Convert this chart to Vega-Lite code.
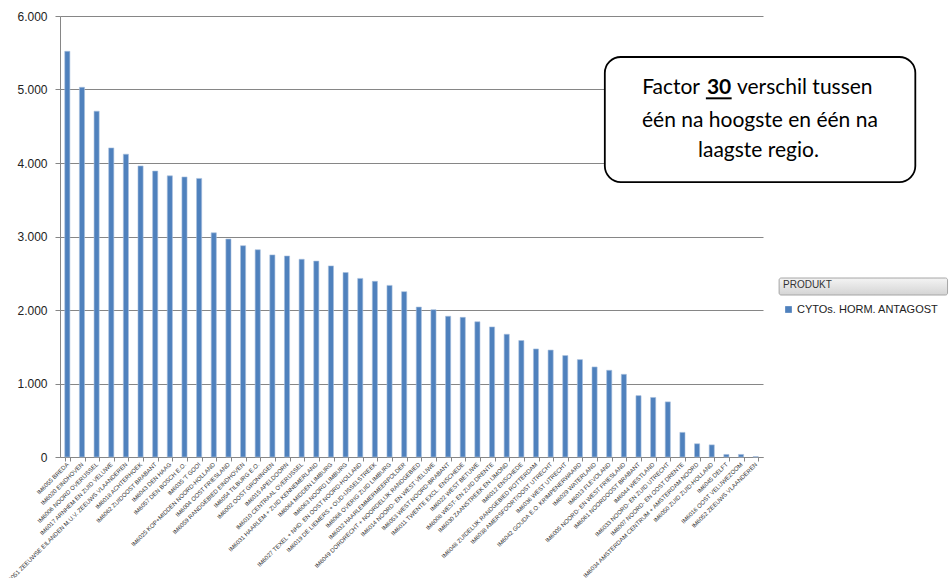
{
  "$schema": "https://vega.github.io/schema/vega-lite/v6.json",
  "width": 703,
  "height": 441,
  "autosize": "none",
  "padding": {"left": 60, "top": 16, "right": 186, "bottom": 121},
  "background": "white",
  "config": {"view": {"stroke": null}, "font": "Liberation Sans"},
  "data": {
    "values": [
      {"region": "IM6055 BREDA", "value": 5520, "produkt": "CYTOs. HORM. ANTAGOST"},
      {"region": "IM6020 EINDHOVEN", "value": 5030, "produkt": "CYTOs. HORM. ANTAGOST"},
      {"region": "IM6006 NOORD OVERIJSSEL", "value": 4705, "produkt": "CYTOs. HORM. ANTAGOST"},
      {"region": "IM6017 ARNHEM EN ZUID VELUWE", "value": 4205, "produkt": "CYTOs. HORM. ANTAGOST"},
      {"region": "IM6051 ZEEUWSE EILANDEN M.U.V. ZEEUWS VLAANDEREN", "value": 4120, "produkt": "CYTOs. HORM. ANTAGOST"},
      {"region": "IM6018 ACHTERHOEK", "value": 3960, "produkt": "CYTOs. HORM. ANTAGOST"},
      {"region": "IM6062 ZUIDOOST BRABANT", "value": 3890, "produkt": "CYTOs. HORM. ANTAGOST"},
      {"region": "IM6043 DEN HAAG", "value": 3825, "produkt": "CYTOs. HORM. ANTAGOST"},
      {"region": "IM6057 DEN BOSCH E.O.", "value": 3810, "produkt": "CYTOs. HORM. ANTAGOST"},
      {"region": "IM6035 'T GOOI", "value": 3790, "produkt": "CYTOs. HORM. ANTAGOST"},
      {"region": "IM6025 KOP+MIDDEN NOORD-HOLLAND", "value": 3050, "produkt": "CYTOs. HORM. ANTAGOST"},
      {"region": "IM6004 OOST FRIESLAND", "value": 2965, "produkt": "CYTOs. HORM. ANTAGOST"},
      {"region": "IM6059 RANDGEBIED EINDHOVEN", "value": 2875, "produkt": "CYTOs. HORM. ANTAGOST"},
      {"region": "IM6054 TILBURG E.O.", "value": 2820, "produkt": "CYTOs. HORM. ANTAGOST"},
      {"region": "IM6002 OOST GRONINGEN", "value": 2750, "produkt": "CYTOs. HORM. ANTAGOST"},
      {"region": "IM6015 APELDOORN", "value": 2735, "produkt": "CYTOs. HORM. ANTAGOST"},
      {"region": "IM6010 CENTRAAL OVERIJSSEL", "value": 2690, "produkt": "CYTOs. HORM. ANTAGOST"},
      {"region": "IM6031 HAARLEM + ZUID KENNEMERLAND", "value": 2665, "produkt": "CYTOs. HORM. ANTAGOST"},
      {"region": "IM6064 MIDDEN LIMBURG", "value": 2600, "produkt": "CYTOs. HORM. ANTAGOST"},
      {"region": "IM6063 NOORD LIMBURG", "value": 2510, "produkt": "CYTOs. HORM. ANTAGOST"},
      {"region": "IM6027 TEXEL + NHD. EN OOST NOORD-HOLLAND", "value": 2430, "produkt": "CYTOs. HORM. ANTAGOST"},
      {"region": "IM6019 DE LIEMERS + OUD-IJSSELSTREEK", "value": 2390, "produkt": "CYTOs. HORM. ANTAGOST"},
      {"region": "IM6066 OVERIG ZUID LIMBURG", "value": 2335, "produkt": "CYTOs. HORM. ANTAGOST"},
      {"region": "IM6032 HAARLEMMERMEERPOLDER", "value": 2250, "produkt": "CYTOs. HORM. ANTAGOST"},
      {"region": "IM6049 DORDRECHT + NOORDELIJK RANDGEBIED", "value": 2040, "produkt": "CYTOs. HORM. ANTAGOST"},
      {"region": "IM6014 NOORD- EN WEST VELUWE", "value": 2005, "produkt": "CYTOs. HORM. ANTAGOST"},
      {"region": "IM6053 WEST NOORD-BRABANT", "value": 1915, "produkt": "CYTOs. HORM. ANTAGOST"},
      {"region": "IM6011 TWENTE EXCL. ENSCHEDE", "value": 1900, "produkt": "CYTOs. HORM. ANTAGOST"},
      {"region": "IM6022 WEST BETUWE", "value": 1840, "produkt": "CYTOs. HORM. ANTAGOST"},
      {"region": "IM6008 WEST- EN ZUID DRENTE", "value": 1770, "produkt": "CYTOs. HORM. ANTAGOST"},
      {"region": "IM6030 ZAANSTREEK EN IJMOND", "value": 1670, "produkt": "CYTOs. HORM. ANTAGOST"},
      {"region": "IM6012 ENSCHEDE", "value": 1585, "produkt": "CYTOs. HORM. ANTAGOST"},
      {"region": "IM6048 ZUIDELIJK RANDGEBIED ROTTERDAM", "value": 1470, "produkt": "CYTOs. HORM. ANTAGOST"},
      {"region": "IM6038 AMERSFOORT/OOST UTRECHT", "value": 1455, "produkt": "CYTOs. HORM. ANTAGOST"},
      {"region": "IM6036 WEST UTRECHT", "value": 1380, "produkt": "CYTOs. HORM. ANTAGOST"},
      {"region": "IM6042 GOUDA E.O. KRIMPENERWAARD", "value": 1325, "produkt": "CYTOs. HORM. ANTAGOST"},
      {"region": "IM6029 WATERLAND", "value": 1225, "produkt": "CYTOs. HORM. ANTAGOST"},
      {"region": "IM6013 FLEVOLAND", "value": 1180, "produkt": "CYTOs. HORM. ANTAGOST"},
      {"region": "IM6005 NOORD- EN WEST FRIESLAND", "value": 1125, "produkt": "CYTOs. HORM. ANTAGOST"},
      {"region": "IM6061 NOORDOOST BRABANT", "value": 835, "produkt": "CYTOs. HORM. ANTAGOST"},
      {"region": "IM6044 WESTLAND", "value": 810, "produkt": "CYTOs. HORM. ANTAGOST"},
      {"region": "IM6033 NOORD- EN ZUID UTRECHT", "value": 750, "produkt": "CYTOs. HORM. ANTAGOST"},
      {"region": "IM6007 NOORD- EN OOST DRENTE", "value": 335, "produkt": "CYTOs. HORM. ANTAGOST"},
      {"region": "IM6034 AMSTERDAM CENTRUM + AMSTERDAM NOORD", "value": 180, "produkt": "CYTOs. HORM. ANTAGOST"},
      {"region": "IM6050 ZUID ZUID-HOLLAND", "value": 165, "produkt": "CYTOs. HORM. ANTAGOST"},
      {"region": "IM6045 DELFT", "value": 35, "produkt": "CYTOs. HORM. ANTAGOST"},
      {"region": "IM6016 OOST VELUWEZOOM", "value": 35, "produkt": "CYTOs. HORM. ANTAGOST"},
      {"region": "IM6052 ZEEUWS VLAANDEREN", "value": 5, "produkt": "CYTOs. HORM. ANTAGOST"}
    ]
  },
  "layer": [
    {
      "mark": {"type": "bar", "stroke": "#A7C0DE", "strokeWidth": 0.6},
      "encoding": {
        "x": {
          "field": "region",
          "type": "nominal",
          "sort": null,
          "scale": {"paddingInner": 0.65, "paddingOuter": 0.325},
          "axis": {
            "title": null,
            "labelAngle": -45,
            "labelAlign": "right",
            "labelBaseline": "middle",
            "labelFontSize": 6,
            "labelColor": "#333333",
            "labelLimit": 400,
            "labelOverlap": false,
            "labelPadding": 2,
            "tickBand": "extent",
            "tickSize": 4,
            "tickColor": "#868686",
            "domainColor": "#868686",
            "grid": false
          }
        },
        "y": {
          "field": "value",
          "type": "quantitative",
          "scale": {"domain": [0, 6000], "nice": false},
          "axis": {
            "title": null,
            "values": [0, 1000, 2000, 3000, 4000, 5000, 6000],
            "labelExpr": "replace(format(datum.value, ','), ',', '.')",
            "labelFontSize": 12,
            "labelColor": "#222222",
            "labelPadding": 8,
            "tickSize": 5,
            "tickColor": "#868686",
            "domainColor": "#868686",
            "gridColor": "#868686",
            "gridWidth": 1
          }
        },
        "color": {
          "field": "produkt",
          "type": "nominal",
          "scale": {"range": ["#4F81BD"]},
          "legend": {
            "orient": "none",
            "legendX": 723,
            "legendY": 264,
            "title": "PRODUKT",
            "titleFontSize": 10,
            "titleFontWeight": "normal",
            "titleColor": "#333333",
            "titlePadding": 14,
            "symbolType": "square",
            "symbolSize": 45,
            "symbolStrokeWidth": 0,
            "labelFontSize": 11,
            "labelColor": "#222222",
            "labelOffset": 3,
            "labelLimit": 200
          }
        }
      }
    },
    {
      "data": {"values": [{}]},
      "layer": [
        {
          "mark": {"type": "rect", "cornerRadius": 2, "stroke": "#A6A6A6", "strokeWidth": 1,
            "fill": {"gradient": "linear", "x1": 0, "y1": 0, "x2": 0, "y2": 1,
              "stops": [{"offset": 0, "color": "#F4F4F4"}, {"offset": 1, "color": "#D4D4D4"}]}},
          "encoding": {
            "x": {"datum": 49.1, "type": "quantitative", "scale": {"domain": [0, 48], "nice": false, "zero": false}, "axis": null},
            "x2": {"datum": 60.6},
            "y": {"datum": 2435, "type": "quantitative", "title": null},
            "y2": {"datum": 2204}
          }
        },
        {
          "mark": {"type": "rect", "cornerRadius": 16, "stroke": "#000000", "strokeWidth": 1.8, "fill": "#FFFFFF"},
          "encoding": {
            "x": {"datum": 37.2, "type": "quantitative", "axis": null},
            "x2": {"datum": 58.4},
            "y": {"datum": 5442, "type": "quantitative", "title": null},
            "y2": {"datum": 3741}
          }
        },
        {
          "mark": {"type": "text", "text": "Factor", "font": "Lato", "fontSize": 21, "align": "right", "baseline": "alphabetic", "color": "#000000"},
          "encoding": {
            "x": {"datum": 43.7, "type": "quantitative", "axis": null},
            "y": {"datum": 4939, "type": "quantitative", "title": null}
          }
        },
        {
          "mark": {"type": "text", "text": "30", "font": "Lato", "fontSize": 21, "fontWeight": "bold", "align": "center", "baseline": "alphabetic", "color": "#000000"},
          "encoding": {
            "x": {"datum": 45.0, "type": "quantitative", "axis": null},
            "y": {"datum": 4939, "type": "quantitative", "title": null}
          }
        },
        {
          "mark": {"type": "rule", "strokeWidth": 2, "color": "#000000"},
          "encoding": {
            "x": {"datum": 44.1, "type": "quantitative", "axis": null},
            "x2": {"datum": 45.86},
            "y": {"datum": 4880, "type": "quantitative", "title": null}
          }
        },
        {
          "mark": {"type": "text", "text": "verschil tussen", "font": "Lato", "fontSize": 21, "align": "left", "baseline": "alphabetic", "color": "#000000"},
          "encoding": {
            "x": {"datum": 46.22, "type": "quantitative", "axis": null},
            "y": {"datum": 4939, "type": "quantitative", "title": null}
          }
        },
        {
          "mark": {"type": "text", "text": "één na hoogste en één na", "font": "Lato", "fontSize": 21, "align": "center", "baseline": "alphabetic", "color": "#000000"},
          "encoding": {
            "x": {"datum": 47.79, "type": "quantitative", "axis": null},
            "y": {"datum": 4494, "type": "quantitative", "title": null}
          }
        },
        {
          "mark": {"type": "text", "text": "laagste regio.", "font": "Lato", "fontSize": 21, "align": "center", "baseline": "alphabetic", "color": "#000000"},
          "encoding": {
            "x": {"datum": 47.69, "type": "quantitative", "axis": null},
            "y": {"datum": 4086, "type": "quantitative", "title": null}
          }
        }
      ]
    }
  ],
  "resolve": {"scale": {"x": "independent"}, "axis": {"x": "independent"}}
}
